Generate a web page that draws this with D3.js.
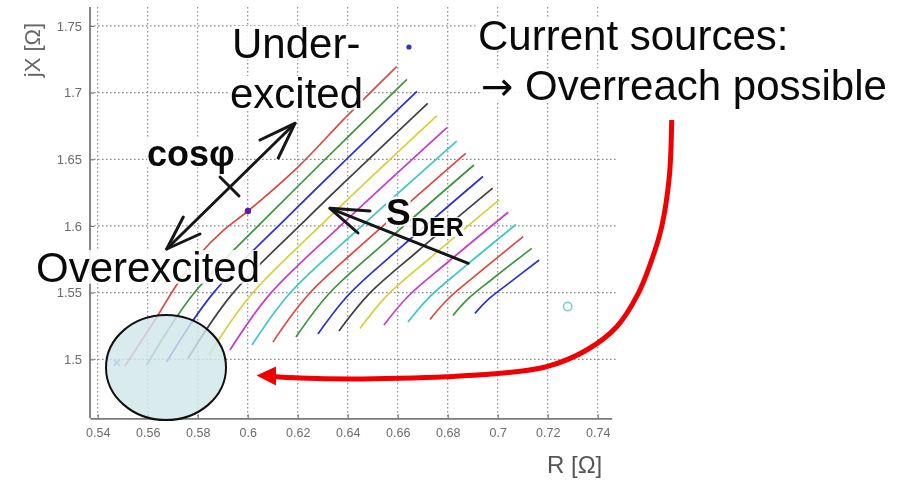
<!DOCTYPE html>
<html><head><meta charset="utf-8">
<script src="https://cdn.jsdelivr.net/npm/d3@7"></script>
<style>html,body{margin:0;padding:0;background:#fff;} svg{display:block;}</style>
</head><body><svg id="c" width="912" height="483"></svg>
<script>
// ---------- data ----------
const xTicks = [0.54, 0.56, 0.58, 0.6, 0.62, 0.64, 0.66, 0.68, 0.7, 0.72, 0.74];
const xTickLabels = ["0.54","0.56","0.58","0.6","0.62","0.64","0.66","0.68","0.7","0.72","0.74"];
const yTicks = [1.5, 1.55, 1.6, 1.65, 1.7, 1.75];
const yTickLabels = ["1.5","1.55","1.6","1.65","1.7","1.75"];
const xLabel = "R [\u03A9]";
const yLabel = "jX [\u03A9]";

// one curve per DER size, points along cos(phi)
const seriesR = [
  [0.5509,0.5629,0.5721,0.5809,0.5905,0.6001,0.6201,0.6401,0.6596],
  [0.5596,0.5784,0.6114,0.6637],
  [0.5676,0.5858,0.6175,0.6677],
  [0.5761,0.5936,0.6239,0.6720],
  [0.5845,0.6012,0.6300,0.6756],
  [0.5929,0.6088,0.6363,0.6797],
  [0.6017,0.6166,0.6426,0.6836],
  [0.6101,0.6242,0.6486,0.6872],
  [0.6193,0.6324,0.6550,0.6905],
  [0.6281,0.6404,0.6612,0.6941],
  [0.6365,0.6480,0.6674,0.6980],
  [0.6449,0.6554,0.6730,0.7006],
  [0.6545,0.6640,0.6796,0.7042],
  [0.6641,0.6725,0.6860,0.7073],
  [0.6729,0.6802,0.6919,0.7102],
  [0.6821,0.6882,0.6981,0.7136],
  [0.6909,0.6959,0.7040,0.7166]
];
const seriesX = [
  [1.4950,1.5295,1.5572,1.5790,1.5970,1.6112,1.6442,1.6832,1.7195],
  [1.4957,1.5493,1.6135,1.7099],
  [1.4980,1.5487,1.6096,1.7009],
  [1.5006,1.5485,1.6059,1.6920],
  [1.5032,1.5480,1.6019,1.6825],
  [1.5070,1.5487,1.5987,1.6737],
  [1.5107,1.5490,1.5949,1.6637],
  [1.5130,1.5484,1.5908,1.6545],
  [1.5167,1.5490,1.5877,1.6457],
  [1.5190,1.5485,1.5839,1.6371],
  [1.5212,1.5480,1.5801,1.6283],
  [1.5231,1.5472,1.5761,1.6195],
  [1.5257,1.5469,1.5722,1.6103],
  [1.5280,1.5463,1.5682,1.6011],
  [1.5299,1.5454,1.5640,1.5920],
  [1.5329,1.5455,1.5606,1.5832],
  [1.5344,1.5444,1.5564,1.5745]
];
// single markers
const markerR = [0.6645, 0.6001, 0.7280, 0.5476];
const markerX = [1.7342, 1.6112, 1.5395, 1.4975];

// ---------- styles / layout ----------
const palette = ["#e0463e","#3a963a","#2e2ed6","#404040","#d2d238","#c83ac8","#3cc6c6"];
const markerStyle = [
  {type:"dot", color:"#3030c8", r:2.6},
  {type:"dot", color:"#5a1aa8", r:3.2},
  {type:"circle", color:"#7fd2cf", r:4.2},
  {type:"x", color:"#4a6ad0", r:3}
];
const plot = {left:90, right:611.7, top:7, bottom:418.3};
const font = "'Liberation Sans', Arial, Helvetica, sans-serif";

const svg = d3.select("#c");
const defs = svg.append("defs");
defs.append("filter").attr("id","blur").attr("x","-5%").attr("y","-5%").attr("width","110%").attr("height","110%")
  .append("feGaussianBlur").attr("stdDeviation",0.55);

const x = d3.scaleLinear().domain([0.53692, 0.7456]).range([plot.left, plot.right]);
const y = d3.scaleLinear().domain([1.45575, 1.7642]).range([plot.bottom, plot.top]);

const g = svg.append("g").attr("filter","url(#blur)");

// grid
const grid = g.append("g").attr("stroke","#8a8a8a").attr("stroke-width",1.2).attr("stroke-dasharray","1.6,2.4");
grid.selectAll(".vg").data(xTicks).join("line")
  .attr("x1",d=>x(d)).attr("x2",d=>x(d)).attr("y1",plot.top).attr("y2",plot.bottom);
grid.selectAll(".hg").data(yTicks).join("line")
  .attr("y1",d=>y(d)).attr("y2",d=>y(d)).attr("x1",plot.left).attr("x2",617);

// axes
const xAxis = d3.axisBottom(x).tickValues(xTicks).tickFormat((d,i)=>xTickLabels[i])
  .tickSizeInner(-4).tickSizeOuter(0).tickPadding(10);
const yAxis = d3.axisLeft(y).tickValues(yTicks).tickFormat((d,i)=>yTickLabels[i])
  .tickSizeInner(-4).tickSizeOuter(0).tickPadding(8);
const gx = g.append("g").attr("transform",`translate(0,${plot.bottom})`).call(xAxis);
const gy = g.append("g").attr("transform",`translate(${plot.left},0)`).call(yAxis);
[gx,gy].forEach(a=>{
  a.select(".domain").attr("stroke","#7a7a7a").attr("stroke-width",1.8);
  a.selectAll(".tick line").attr("stroke","#7a7a7a").attr("stroke-width",1.2);
  a.selectAll(".tick text").attr("fill","#6c6c6c").attr("font-family",font).attr("font-size",12.5);
});
gy.selectAll(".tick text").attr("font-size",13);
gy.select(".domain").attr("d",`M0,${plot.top}V${plot.bottom}`);

// axis labels
g.append("text").attr("x",547).attr("y",473).attr("font-family",font).attr("font-size",24)
  .attr("fill","#555").text(xLabel);
g.append("text").attr("transform","translate(40,50) rotate(-90)").attr("text-anchor","middle")
  .attr("font-family",font).attr("font-size",22).attr("fill","#666").text(yLabel);

// curves
const line = d3.line().x(d=>x(d[0])).y(d=>y(d[1])).curve(d3.curveCatmullRom.alpha(0.5));
const curves = seriesR.map((rs,i)=>rs.map((r,j)=>[r, seriesX[i][j]]));
g.append("g").selectAll("path").data(curves).join("path")
  .attr("d",line).attr("fill","none")
  .attr("stroke",(d,i)=>palette[i % palette.length]).attr("stroke-width",1.7);

// markers
markerR.forEach((r,i)=>{
  const s = markerStyle[i], cx = x(r), cy = y(markerX[i]);
  if (s.type==="dot") g.append("circle").attr("cx",cx).attr("cy",cy).attr("r",s.r).attr("fill",s.color);
  else if (s.type==="circle") g.append("circle").attr("cx",cx).attr("cy",cy).attr("r",s.r)
      .attr("fill","none").attr("stroke",s.color).attr("stroke-width",1.6);
  else g.append("path").attr("d",`M${cx-s.r},${cy-s.r}L${cx+s.r},${cy+s.r}M${cx+s.r},${cy-s.r}L${cx-s.r},${cy+s.r}`)
      .attr("stroke",s.color).attr("stroke-width",1.6);
});

// ---------- annotations ----------
const ann = svg.append("g");
function label(txt, px, py, size, weight, arrowFirst){
  const t = ann.append("text").attr("x",px).attr("y",py).attr("font-family",font)
    .attr("font-size",size).attr("font-weight",weight||"normal").attr("fill","#0a0a0a");
  if (arrowFirst) {
    t.append("tspan").attr("font-family","'DejaVu Sans', sans-serif").attr("font-size",size*0.92).text("\u2192");
    t.append("tspan").text(txt);
  } else t.text(txt);
  const b = t.node().getBBox();
  ann.insert("rect","text").attr("x",b.x).attr("y",py - size*0.76).attr("width",b.width)
    .attr("height",size*0.8).attr("fill","#fff").attr("opacity",0.88);
  return t;
}
label("Under-", 232, 58, 42);
label("excited", 230, 108, 42);
label("Current sources:", 478, 49.5, 42);
label(" Overreach possible", 481, 100, 42, "normal", true);
label("Overexcited", 36, 282, 42);
label("cos\u03C6", 147, 166, 36, "bold");
label("S", 386, 225, 37, "bold");
label("DER", 411, 236, 25, "bold");

// ellipse highlight
ann.append("ellipse").attr("cx",166).attr("cy",367.5).attr("rx",60).attr("ry",52.5)
  .attr("fill","#d2e6ea").attr("fill-opacity",0.82).attr("stroke","#111").attr("stroke-width",2);

// black arrows
const ak = ann.append("g").attr("stroke","#161616").attr("stroke-width",3).attr("fill","none")
  .attr("stroke-linecap","round").attr("stroke-linejoin","round");
ak.append("path").attr("d","M166.7,249L295,123.3");
ak.append("path").attr("d","M260,140L295,123.3L278.3,158");
ak.append("path").attr("d","M183.3,217L166.7,249L200,234");
ak.append("path").attr("d","M220,177L239,196");
ak.append("path").attr("d","M468.3,263.3L330,208.3");
ak.append("path").attr("d","M370,211L330,208.3L358,233");

// red curved arrow
const redPts = [[671.7,120],[669.3,176.7],[661.7,226.7],[651.7,260],[638.3,293.3],[616.7,326.7],
  [586.7,350],[546.7,366.7],[500,373.3],[446.7,376.7],[400,378.3],[350,379],[300,378],[272,376.5]];
ann.append("path").attr("d",d3.line().curve(d3.curveCatmullRom)(redPts))
  .attr("fill","none").attr("stroke","#f00000").attr("stroke-width",5);
ann.append("path").attr("d","M256.5,375.5L276,366.5L276,385.5Z").attr("fill","#f00000");
</script>
</body></html>
